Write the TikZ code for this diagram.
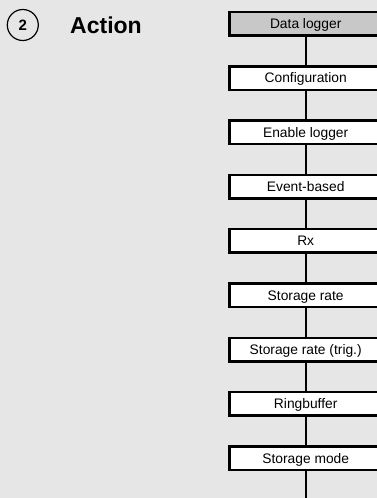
\documentclass[tikz,border=0pt]{standalone}
\usepackage{fontspec}
\setmainfont{Liberation Sans}
\definecolor{bggray}{HTML}{E6E6E6}
\definecolor{loggray}{HTML}{C8C8C8}

\begin{document}
\begin{tikzpicture}[x=1pt, y=-1pt, box/.style={draw, line width=2.5pt, fill=white, minimum width=152pt, minimum height=23.5pt, inner sep=0pt, text height=9.9pt, text depth=0pt, font=\fontsize{13.8}{15}\selectfont}]

\useasboundingbox (0,0) rectangle (377,498);
\clip (0,0) rectangle (377,498);
\fill[bggray] (0,0) rectangle (377,498);

\node[circle, draw, line width=1.2pt, minimum size=31pt, inner sep=0pt, font=\bfseries\fontsize{15}{15}\selectfont] (num) at (22.8,25) {2};
\node[anchor=west, inner sep=0pt, font=\bfseries\fontsize{23}{23}\selectfont] (title) at (70,25) {Action};

\node[box, fill=loggray] (b0) at (305.7,0*54.3+23.7) {Data logger};
\node[box] (b1) at (305.7,1*54.3+23.7) {Configuration};
\node[box] (b2) at (305.7,2*54.3+23.7) {Enable logger};
\node[box] (b3) at (305.7,3*54.3+23.7) {Event-based};
\node[box] (b4) at (305.7,4*54.3+23.7) {Rx};
\node[box] (b5) at (305.7,5*54.3+23.7) {Storage rate};
\node[box] (b6) at (305.7,6*54.3+23.7) {Storage rate (trig.)};
\node[box] (b7) at (305.7,7*54.3+23.7) {Ringbuffer};
\node[box] (b8) at (305.7,8*54.3+23.7) {Storage mode};
\coordinate (bend) at (305.7,505);

\foreach \i in {0,...,7} {
    \draw[line width=2pt] (b\i) -- (b\the\numexpr\i+1\relax);
}
\draw[line width=2pt] (b8) -- (bend);

\end{tikzpicture}
\end{document}
